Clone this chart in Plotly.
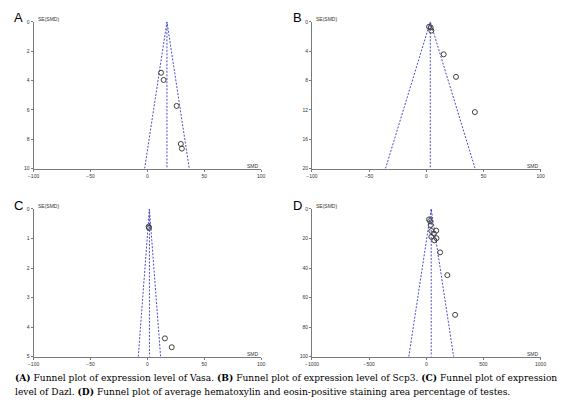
import plotly.graph_objects as go

# values (SMD, SE(SMD))
A_SMD = [12.0, 14.3, 25.7, 29.4, 30.3]
A_SE = [3.47, 3.96, 5.73, 8.32, 8.64]
A_POOLED = 17.2

B_SMD = [2.4, 3.8, 4.4, 15.2, 26.0, 42.5]
B_SE = [0.67, 0.76, 1.2, 4.43, 7.5, 12.3]
B_POOLED = 3.5

C_SMD = [1.1, 1.4, 15.4, 21.4]
C_SE = [0.6, 0.64, 4.38, 4.68]
C_POOLED = 1.8

D_SMD = [24, 33, 38, 44, 87, 67, 89, 44, 70, 121, 184, 252]
D_SE = [7.1, 8.2, 10.9, 14.9, 14.7, 16.7, 19.8, 18.9, 21.2, 29.4, 44.8, 71.7]
D_POOLED = 43

X_TICKS = [-100, -50, 0, 50, 100]
X_TICKS_D = [-1000, -500, 0, 500, 1000]
Y_TICKS_A = [0, 2, 4, 6, 8, 10]
Y_TICKS_B = [0, 4, 8, 12, 16, 20]
Y_TICKS_C = [0, 1, 2, 3, 4, 5]
Y_TICKS_D = [0, 20, 40, 60, 80, 100]

# page body has an 8px margin, so the figure is drawn a bit smaller and offset
OFF = 8
W, H = 580 - 2 * OFF, 404 - OFF
FUNNEL = "#4b4bc8"
AXIS = "#7a7a7a"


def px_x(v):
    return (v - OFF) / W


def px_y(v):
    return 1 - (v - OFF) / H


panels = [
    # letter, smd, se, pooled, xticks, yticks, (x0, x1, y0, y1) in page pixels
    ("A", A_SMD, A_SE, A_POOLED, X_TICKS, Y_TICKS_A, (27, 260, 19, 168)),
    ("B", B_SMD, B_SE, B_POOLED, X_TICKS, Y_TICKS_B, (312, 546, 19, 168)),
    ("C", C_SMD, C_SE, C_POOLED, X_TICKS, Y_TICKS_C, (27, 260, 209, 359)),
    ("D", D_SMD, D_SE, D_POOLED, X_TICKS_D, Y_TICKS_D, (312, 546, 209, 359)),
]

fig = go.Figure()
annotations = []
layout_axes = {}

for i, (letter, smd, se, pooled, xt, yt, box) in enumerate(panels):
    n = "" if i == 0 else str(i + 1)
    xa, ya = "x" + n, "y" + n
    se_max = yt[-1]
    # funnel (pooled estimate and 95% limits)
    fig.add_trace(go.Scatter(
        x=[pooled - 1.96 * se_max, pooled, pooled + 1.96 * se_max],
        y=[se_max, 0, se_max], mode="lines", xaxis=xa, yaxis=ya,
        line=dict(color=FUNNEL, width=1, dash="2px,1.5px"), hoverinfo="skip"))
    fig.add_trace(go.Scatter(
        x=[pooled, pooled], y=[0, se_max], mode="lines", xaxis=xa, yaxis=ya,
        line=dict(color=FUNNEL, width=1, dash="2px,1.5px"), hoverinfo="skip"))
    fig.add_trace(go.Scatter(
        x=smd, y=se, mode="markers", xaxis=xa, yaxis=ya,
        marker=dict(symbol="circle-open", size=5, color="#404040", line=dict(width=1))))

    x0, x1, y0, y1 = box
    layout_axes["xaxis" + n] = dict(
        domain=[px_x(x0), px_x(x1)], anchor=ya, range=[xt[0], xt[-1]],
        tickvals=xt, showgrid=False, zeroline=False, showline=True,
        linecolor=AXIS, linewidth=1, ticks="outside", ticklen=2, tickcolor=AXIS,
        tickfont=dict(size=5, color="#333333"))
    layout_axes["yaxis" + n] = dict(
        domain=[px_y(y1), px_y(y0)], anchor=xa, range=[se_max, 0],
        tickvals=yt, showgrid=False, zeroline=False, showline=True,
        linecolor=AXIS, linewidth=1, ticks="outside", ticklen=2, tickcolor=AXIS,
        tickfont=dict(size=5, color="#333333"))

    annotations += [
        dict(text=letter, xref="paper", yref="paper", x=px_x(x0 - 15), y=px_y(y0 - 4),
             xanchor="center", yanchor="middle", showarrow=False,
             font=dict(size=13, color="black", family="Liberation Sans")),
        dict(text="SE(SMD)", xref="paper", yref="paper", x=px_x(x0 + 2), y=px_y(y0 - 3),
             xanchor="left", yanchor="middle", showarrow=False,
             font=dict(size=5, color="#333333")),
        dict(text="SMD", xref="paper", yref="paper", x=px_x(x1), y=px_y(y1 - 3),
             xanchor="right", yanchor="middle", showarrow=False,
             font=dict(size=5, color="#333333")),
    ]

caption1 = ("<b>(A)</b> Funnel plot of expression level of Vasa. <b>(B)</b> Funnel plot of "
            "expression level of Scp3. <b>(C)</b> Funnel plot of expression")
caption2 = ("level of Dazl. <b>(D)</b> Funnel plot of average hematoxylin and eosin-positive "
            "staining area percentage of testes.")
for k, line in enumerate([caption1, caption2]):
    annotations.append(dict(
        text=line, xref="paper", yref="paper", x=px_x(7), y=px_y(380 + 14 * k),
        xanchor="left", yanchor="middle", showarrow=False, borderpad=0,
        font=dict(size=9.1, color="black", family="DejaVu Serif")))

fig.update_layout(
    width=W, height=H, margin=dict(l=0, r=0, t=0, b=0),
    paper_bgcolor="white", plot_bgcolor="white", showlegend=False,
    font=dict(family="Liberation Sans"), annotations=annotations, **layout_axes)

fig.write_html("out.html")
